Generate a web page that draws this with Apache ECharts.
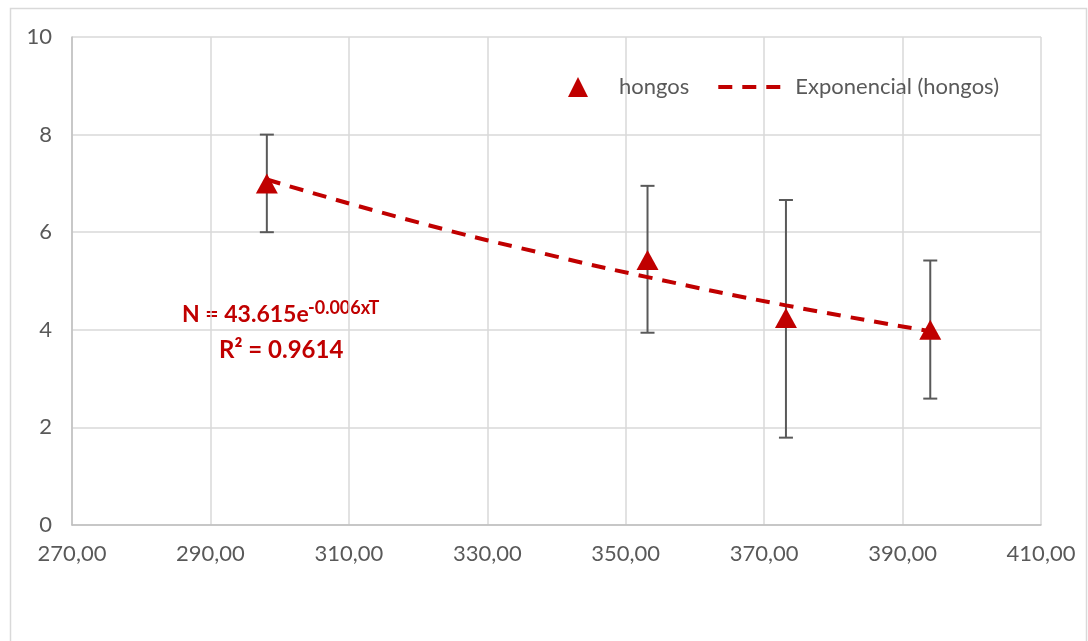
<!DOCTYPE html>
<html>
<head>
<meta charset="utf-8">
<script src="https://cdn.jsdelivr.net/npm/echarts@6/dist/echarts.min.js"></script>
<style>
  html, body { margin: 0; padding: 0; background: #fff; }
  #chart { width: 1088px; height: 641px; }
</style>
</head>
<body>
<div id="chart"></div>
<script>
// temperature (K) and mean value for hongos
const temps = [298.15, 353.15, 373.15, 394.0];
const hongos = [7.0, 5.43, 4.24, 4.0];
const errLow = [6.0, 3.94, 1.79, 2.59];
const errHigh = [8.0, 6.95, 6.66, 5.42];

// exponential trend
const trendT = [298.15, 320, 340, 353.15, 373.15, 394.0];
const trendN = [7.08, 6.2, 5.5, 5.08, 4.5, 3.97];

const red = '#C00000';
const gray = '#595959';
const font = 'Lato, "Open Sans", sans-serif';

// triangle padded to the 72x20 legend box so it is not stretched
const legendTriangle = 'path://M-26,10L-26,10M10,0L20,20L0,20ZM46,10L46,10';

const myChart = echarts.init(document.getElementById('chart'));

myChart.setOption({
  animation: false,
  grid: { left: 72, right: 47, top: 37, bottom: 116 },
  graphic: [
    {
      type: 'rect',
      shape: { x: 10.5, y: 8.5, width: 1076, height: 640 },
      style: { fill: 'none', stroke: '#D9D9D9', lineWidth: 1.5 },
      z: -10
    },
    {
      type: 'text',
      left: 182, top: 303,
      style: { text: 'N = 43.615e', font: 'bold 23px ' + font, fill: red }
    },
    {
      type: 'text',
      left: 308, top: 299,
      style: { text: '-0.006xT', font: 'bold 18px ' + font, fill: red }
    },
    {
      type: 'text',
      left: 219, top: 338,
      style: { text: 'R² = 0.9614', font: 'bold 24px ' + font, fill: red }
    }
  ],
  legend: {
    left: 537,
    top: 71,
    itemWidth: 72,
    itemHeight: 20,
    itemGap: 27,
    textStyle: { fontFamily: font, fontSize: 22, color: gray },
    data: [
      { name: 'hongos', icon: legendTriangle },
      { name: 'Exponencial (hongos)', itemStyle: { opacity: 0 }, lineStyle: { width: 4 } }
    ]
  },
  xAxis: {
    type: 'value',
    min: 270,
    max: 410,
    interval: 20,
    axisLine: { lineStyle: { color: '#BFBFBF', width: 1.5 } },
    axisTick: { show: false },
    axisLabel: {
      margin: 18,
      fontFamily: font,
      fontSize: 22,
      color: gray,
      formatter: v => v.toFixed(2).replace('.', ',')
    },
    splitLine: { lineStyle: { color: '#D9D9D9', width: 1.5 } }
  },
  yAxis: {
    type: 'value',
    min: 0,
    max: 10,
    interval: 2,
    axisLine: { show: true, lineStyle: { color: '#BFBFBF', width: 1.5 } },
    axisTick: { show: false },
    axisLabel: { margin: 20, fontFamily: font, fontSize: 22, color: gray },
    splitLine: { lineStyle: { color: '#D9D9D9', width: 1.5 } }
  },
  series: [
    {
      name: 'error',
      type: 'custom',
      z: 2,
      data: temps.map((t, i) => [t, errLow[i], errHigh[i]]),
      renderItem: function (params, api) {
        const lo = api.coord([api.value(0), api.value(1)]);
        const hi = api.coord([api.value(0), api.value(2)]);
        const cap = 7;
        const style = { stroke: gray, lineWidth: 2 };
        return {
          type: 'group',
          children: [
            { type: 'line', shape: { x1: lo[0], y1: lo[1], x2: hi[0], y2: hi[1] }, style: style },
            { type: 'line', shape: { x1: lo[0] - cap, y1: lo[1], x2: lo[0] + cap, y2: lo[1] }, style: style },
            { type: 'line', shape: { x1: hi[0] - cap, y1: hi[1], x2: hi[0] + cap, y2: hi[1] }, style: style }
          ]
        };
      }
    },
    {
      name: 'Exponencial (hongos)',
      type: 'line',
      z: 3,
      smooth: true,
      symbol: 'none',
      data: trendT.map((t, i) => [t, trendN[i]]),
      lineStyle: { color: red, width: 4, type: [14, 10] },
      itemStyle: { color: red }
    },
    {
      name: 'hongos',
      type: 'scatter',
      z: 4,
      symbol: 'triangle',
      symbolSize: [22, 20],
      data: temps.map((t, i) => [t, hongos[i]]),
      itemStyle: { color: red, opacity: 1 }
    }
  ]
});
</script>
</body>
</html>
